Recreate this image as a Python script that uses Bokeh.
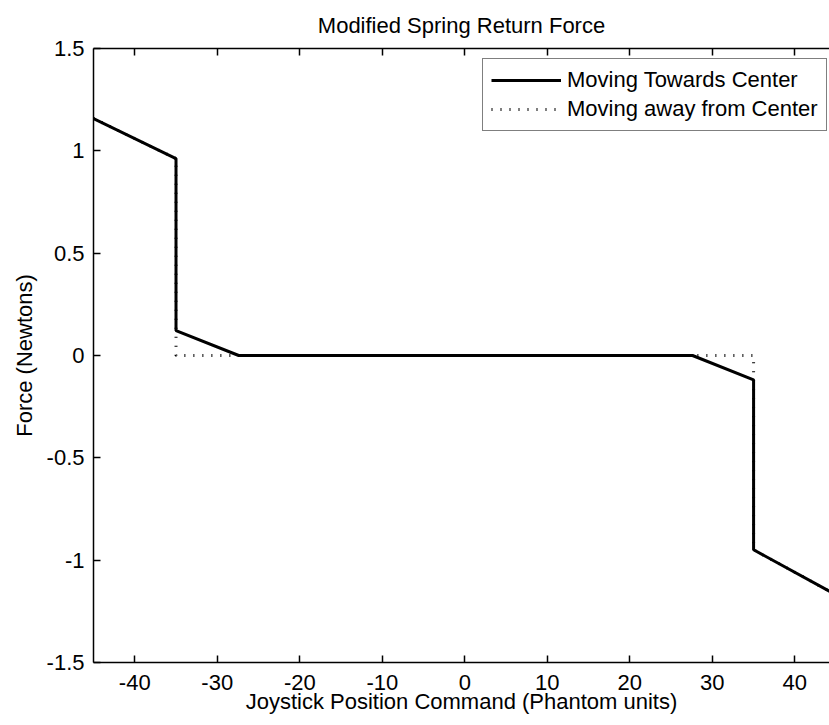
from bokeh.plotting import figure
from bokeh.models import Range1d, LinearAxis, FixedTicker, Legend, LegendItem
from bokeh.embed import file_html
from bokeh.resources import INLINE

# ---- data ----
title_text = "Modified Spring Return Force"
x_label = "Joystick Position Command (Phantom units)"
y_label = "Force (Newtons)"

x_ticks = [-40, -30, -20, -10, 0, 10, 20, 30, 40]
x_tick_labels = ["-40", "-30", "-20", "-10", "0", "10", "20", "30", "40"]
y_ticks = [-1.5, -1, -0.5, 0, 0.5, 1, 1.5]
y_tick_labels = ["-1.5", "-1", "-0.5", "0", "0.5", "1", "1.5"]

towards_label = "Moving Towards Center"
towards_x = [-45, -35, -35, -27.4, 27.6, 35, 35, 45]
towards_y = [1.158, 0.962, 0.122, 0.0, 0.0, -0.119, -0.949, -1.17]

away_label = "Moving away from Center"
away_x = [-45, -35, -35, 35, 35, 45]
away_y = [1.158, 0.962, 0.0, 0.0, -0.949, -1.17]

FONT = "Liberation Sans"
FS = "22px"

p = figure(width=829, height=725, output_backend="svg", toolbar_location=None,
           x_range=Range1d(-45, 44.2), y_range=Range1d(-1.5, 1.5),
           min_border_left=93, min_border_right=0, min_border_top=48,
           min_border_bottom=63, background_fill_color="white",
           border_fill_color="white", outline_line_color=None)

p.xgrid.visible = False
p.ygrid.visible = False

def style_axis(ax, ticks, labels):
    ax.ticker = FixedTicker(ticks=ticks)
    ax.major_label_overrides = {t: l for t, l in zip(ticks, labels)}
    ax.axis_line_color = "black"
    ax.axis_line_width = 1.5
    ax.major_tick_line_color = "black"
    ax.major_tick_line_width = 1.5
    ax.major_tick_in = 7
    ax.major_tick_out = 0
    ax.minor_tick_line_color = None
    ax.major_label_text_font = FONT
    ax.major_label_text_font_size = FS
    ax.major_label_text_color = "black"
    ax.axis_label_text_font = FONT
    ax.axis_label_text_font_size = FS
    ax.axis_label_text_font_style = "normal"
    ax.axis_label_text_color = "black"

style_axis(p.xaxis[0], x_ticks, x_tick_labels)
style_axis(p.yaxis[0], y_ticks, y_tick_labels)
p.xaxis[0].axis_label = x_label
p.yaxis[0].axis_label = y_label
p.xaxis[0].major_label_standoff = 12
p.xaxis[0].axis_label_standoff = -4
p.yaxis[0].major_label_standoff = 9
p.yaxis[0].axis_label_standoff = 7

top_ax = LinearAxis()
style_axis(top_ax, x_ticks, ["" for _ in x_ticks])
top_ax.major_label_text_font_size = "0px"
top_ax.major_label_standoff = 0
p.add_layout(top_ax, "above")

p.title.text = title_text
p.title.text_font = FONT
p.title.text_font_size = FS
p.title.text_font_style = "normal"
p.title.text_color = "black"
p.title.align = "center"
p.title.standoff = 21

r1 = p.line(towards_x, towards_y, line_width=3, line_color="black")
r2 = p.line(away_x, away_y, line_width=3, line_color="black", line_dash="1 8")

legend = Legend(items=[LegendItem(label=towards_label, renderers=[r1]),
                       LegendItem(label=away_label, renderers=[r2])],
                location=(389, 531), margin=0, padding=8, spacing=3,
                glyph_width=70, glyph_height=20, label_standoff=6,
                label_text_font=FONT, label_text_font_size=FS,
                label_text_color="black", border_line_color="black",
                border_line_width=1, background_fill_color="white",
                background_fill_alpha=1.0)
p.add_layout(legend)

open("out.html", "w").write(file_html(p, INLINE))
